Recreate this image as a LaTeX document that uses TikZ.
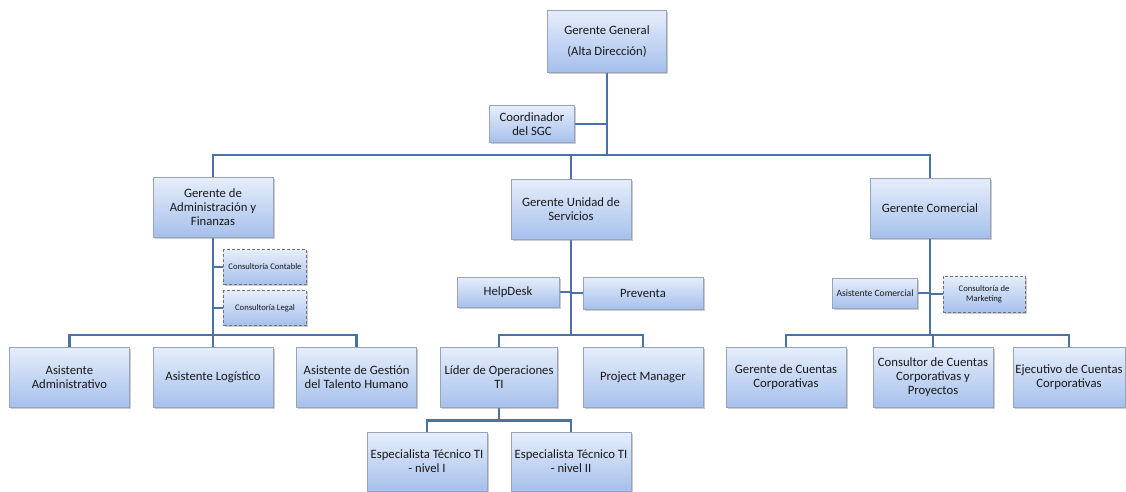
\documentclass[tikz,border=0pt]{standalone}
\usepackage{fontspec}
\setmainfont{Carlito}
\usetikzlibrary{positioning,shadows,backgrounds}

\definecolor{linkblue}{HTML}{4A72A6}
\definecolor{boxtop}{HTML}{E6EEFB}
\definecolor{boxbot}{HTML}{A6C0EC}
\definecolor{boxline}{HTML}{97A3B6}

\begin{document}
\begin{tikzpicture}[x=1pt,y=-1pt,
    puesto/.style={draw=boxline,line width=0.6pt,top color=boxtop,bottom color=boxbot,
        drop shadow={opacity=0.4,shadow xshift=1.5pt,shadow yshift=-1.8pt},
        align=center,text=black!90,inner sep=2pt,minimum width=120pt,minimum height=60pt,
        font=\fontsize{12.7}{14}\selectfont},
    apoyo/.style={puesto,minimum width=102pt,minimum height=30pt},
    externo/.style={puesto,densely dashed,draw=black!55,minimum width=83pt,minimum height=35pt,
        font=\fontsize{8.6}{10}\selectfont},
    enlace/.style={draw=linkblue,line width=2.6pt}]

    \useasboundingbox (0,0) rectangle (1126,491);

    % alta direccion
    \node[puesto,minimum width=119pt,minimum height=62pt,font=\fontsize{12.7}{21}\selectfont] (gg) at (607,41) {Gerente General\\(Alta Dirección)};
    \node[puesto,minimum width=85pt,minimum height=37pt] (sgc) at (532,124) {Coordinador\\del SGC};

    % gerencias
    \node[puesto] (gaf) at (213,207) {Gerente de\\Administración y\\Finanzas};
    \node[puesto] (gus) at (571,209) {Gerente Unidad de\\Servicios};
    \node[puesto] (gc) at (930,208) {Gerente Comercial};

    % administracion y finanzas
    \node[externo] (contable) at (265,267) {Consultoría Contable};
    \node[externo] (legal) at (265,308) {Consultoría Legal};
    \node[puesto] (al) at (213,377) {Asistente Logístico};
    \node[puesto] (aa) [left=23pt of al] {Asistente\\Administrativo};
    \node[puesto] (agth) [right=23pt of al] {Asistente de Gestión\\del Talento Humano};

    % unidad de servicios
    \node[apoyo] (helpdesk) at (508,292) {HelpDesk};
    \node[apoyo,minimum width=120pt,minimum height=32pt] (preventa) at (643,293) {Preventa};
    \node[puesto,minimum width=117pt] (lider) at (499,377) {Líder de Operaciones\\TI};
    \node[puesto] (pm) at (643,377) {Project Manager};
    \node[puesto,minimum height=59pt] (esp1) at (427,461.5) {Especialista Técnico TI\\- nivel I};
    \node[puesto,minimum height=59pt] (esp2) at (571,461.5) {Especialista Técnico TI\\- nivel II};

    % comercial
    \node[apoyo,minimum width=85pt,font=\fontsize{9.6}{11}\selectfont] (acom) at (875,293) {Asistente Comercial};
    \node[externo,minimum width=82pt,minimum height=36pt] (mkt) at (984,294) {Consultoría de\\Marketing};
    \node[puesto] (gcc) at (786,377) {Gerente de Cuentas\\Corporativas};
    \node[puesto] (ccp) at (933,377) {Consultor de Cuentas\\Corporativas y\\Proyectos};
    \node[puesto,minimum width=112pt] (ecc) at (1069,377) {Ejecutivo de Cuentas\\Corporativas};

    \begin{scope}[on background layer]
        \fill[white] (0,0) rectangle (1126,491);

        \coordinate (bus) at (607,155);
        \draw[enlace] (gg.south) -- (bus);
        \draw[enlace] (sgc.east) -- (sgc.east -| bus);
        \draw[enlace] (gaf.north) |- (bus) -| (gc.north);
        \draw[enlace] (gus.north) -- (gus.north |- bus);

        % ramas de administracion
        \draw[enlace] (gaf.south) -- (al.north);
        \draw[enlace] (aa.north) |- (213,335) -| (agth.north);
        \draw[enlace] (contable.west) -- (contable.west -| gaf.south);
        \draw[enlace] (legal.west) -- (legal.west -| gaf.south);

        % ramas de servicios
        \draw[enlace] (gus.south) -- (gus.south |- 0,335) coordinate (busS);
        \draw[enlace] (lider.north) |- (busS) -| (pm.north);
        \draw[enlace] (helpdesk.east) -- (helpdesk.east -| gus.south);
        \draw[enlace] (preventa.west) -- (preventa.west -| gus.south);
        \draw[enlace] (lider.south) -- ++(0,13) coordinate (busL);
        \draw[enlace] (esp1.north) |- (busL) -| (esp2.north);

        % ramas comerciales
        \draw[enlace] (gc.south) -- (gc.south |- 0,335) coordinate (busC);
        \draw[enlace] (gcc.north) |- (busC) -| (ecc.north);
        \draw[enlace] (ccp.north) -- (ccp.north |- busC);
        \draw[enlace] (acom.east) -- (acom.east -| gc.south);
        \draw[enlace] (mkt.west) -- (mkt.west -| gc.south);
    \end{scope}
\end{tikzpicture}
\end{document}
